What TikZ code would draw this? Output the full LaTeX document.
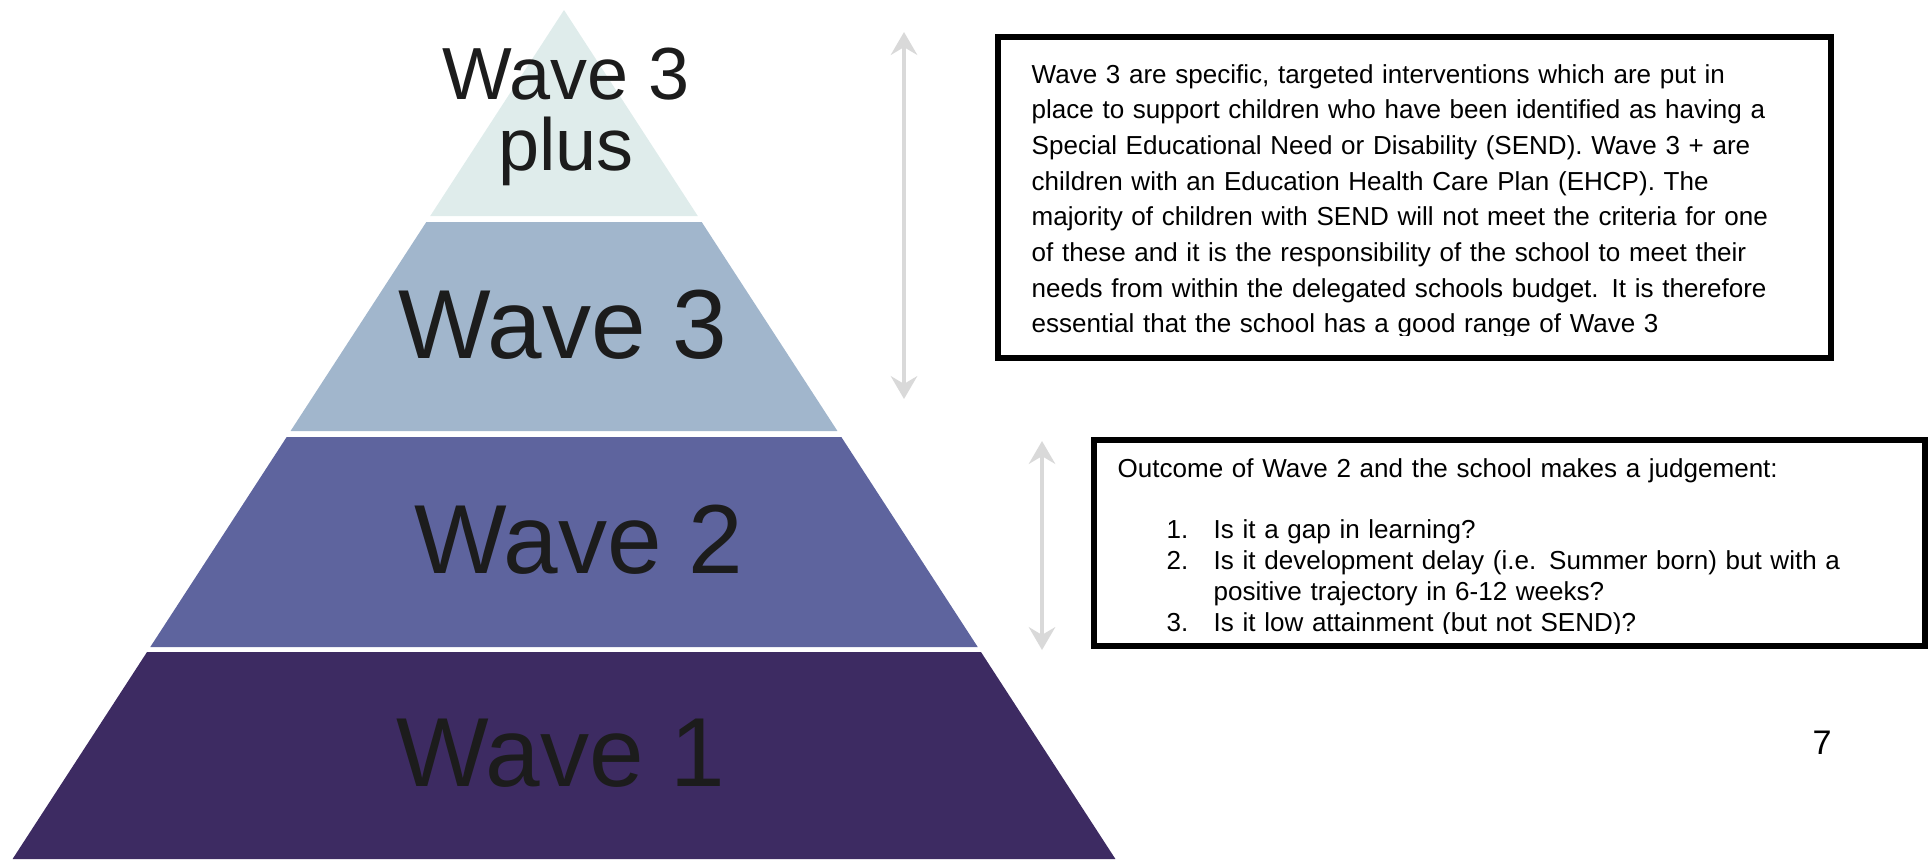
\documentclass[tikz,border=0pt]{standalone}
\usepackage{fontspec}
\setmainfont{Liberation Sans}
\usetikzlibrary{arrows.meta, positioning}
\definecolor{tier_a}{HTML}{DFECEB}
\definecolor{tier_b}{HTML}{A1B6CC}
\definecolor{tier_c}{HTML}{5E649E}
\definecolor{tier_d}{HTML}{3D2B62}
\definecolor{arrow_grey}{HTML}{D9D9D9}
\definecolor{ink}{HTML}{1C1C1C}
\tikzset{
  top_font/.style = {font=\fontsize{21}{21}\selectfont},
  tier_font/.style = {font=\fontsize{27.9}{27.9}\selectfont},
  note_font/.style = {font=\fontsize{7.4}{10.15}\selectfont},
  list_font/.style = {font=\fontsize{7.4}{8.8}\selectfont},
  num_font/.style = {font=\fontsize{9.7}{9.7}\selectfont}
}
\tikzset{
  top_label/.style = {top_font, text=ink, inner sep=0, anchor=base},
  tier_label/.style = {tier_font, text=ink, inner sep=0, anchor=base},
  note_frame/.style = {draw=black, line width=1.45pt},
  note_text/.style = {note_font, align=left, text width=240pt, inner sep=0, anchor=base west},
  list_text/.style = {note_text, list_font},
  grey_arrow/.style = {draw=arrow_grey, line width=1.4pt,
    {Stealth[length=6.5pt, width=7.5pt, inset=2.2pt]}-{Stealth[length=6.5pt, width=7.5pt, inset=2.2pt]}}
}

\begin{document}
\begin{tikzpicture}[x=0.01cm, y=-0.01cm]
    \useasboundingbox (0,0) rectangle (1928,859);

    % Pyramid tiers
    \foreach \ytop/\ybot/\tone in {10/216/tier_a, 222/431/tier_b, 437/647/tier_c, 652/859/tier_d}{
        \fill[\tone] ({564-0.6495*(\ytop-10)},\ytop) -- ({564+0.6495*(\ytop-10)},\ytop)
            -- ({564+0.6495*(\ybot-10)},\ybot) -- ({564-0.6495*(\ybot-10)},\ybot) -- cycle;
    }

    % Tier labels
    \node[top_label] (w3p_line1) at (566,99) {Wave 3};
    \node[top_label] (w3p_line2) at (566,170) {plus};
    \node[tier_label] (w3_label) at (563,358) {Wave 3};
    \node[tier_label] (w2_label) at (579,573) {Wave 2};
    \node[tier_label] (w1_label) at (561,786) {Wave 1};

    % Range arrows
    \coordinate (a_w3_top) at (904,32);
    \coordinate (a_w3_bot) at (904,399);
    \coordinate (a_w2_top) at (1042,441);
    \coordinate (a_w2_bot) at (1042,650);
    \draw[grey_arrow] (a_w3_top)--(a_w3_bot);
    \draw[grey_arrow] (a_w2_top)--(a_w2_bot);

    % Wave 3 note
    \begin{scope}
        \clip (1001,40) rectangle (1828,335);
        \node[note_text] (note_w3) at (1031,83) {
            Wave 3 are specific, targeted interventions which are put in\\
            place to support children who have been identified as having a\\
            Special Educational Need or Disability (SEND). Wave 3 + are\\
            children with an Education Health Care Plan (EHCP). The\\
            majority of children with SEND will not meet the criteria for one\\
            of these and it is the responsibility of the school to meet their\\
            needs from within the delegated schools budget. It is therefore\\
            essential that the school has a good range of Wave 3
            };
    \end{scope}
    \draw[note_frame] (998,37) rectangle (1831,358);

    % Wave 2 note
    \begin{scope}
        \clip (1097,443) rectangle (1922,633);
        \node[list_text] (note_w2) at (1117,477) {
            Outcome of Wave 2 and the school makes a judgement:\\[8.8pt]
            \hspace*{13.9pt}\makebox[13.4pt][l]{1.}Is it a gap in learning?\\
            \hspace*{13.9pt}\makebox[13.4pt][l]{2.}Is it development delay (i.e. Summer born) but with a\\
            \hspace*{27.3pt}positive trajectory in 6-12 weeks?\\
            \hspace*{13.9pt}\makebox[13.4pt][l]{3.}Is it low attainment (but not SEND)?
            };
    \end{scope}
    \draw[note_frame] (1094,440) rectangle (1925,646);

    % Page number
    \node[num_font, inner sep=0, anchor=base] (page_no) at (1822,754) {7};
\end{tikzpicture}
\end{document}
